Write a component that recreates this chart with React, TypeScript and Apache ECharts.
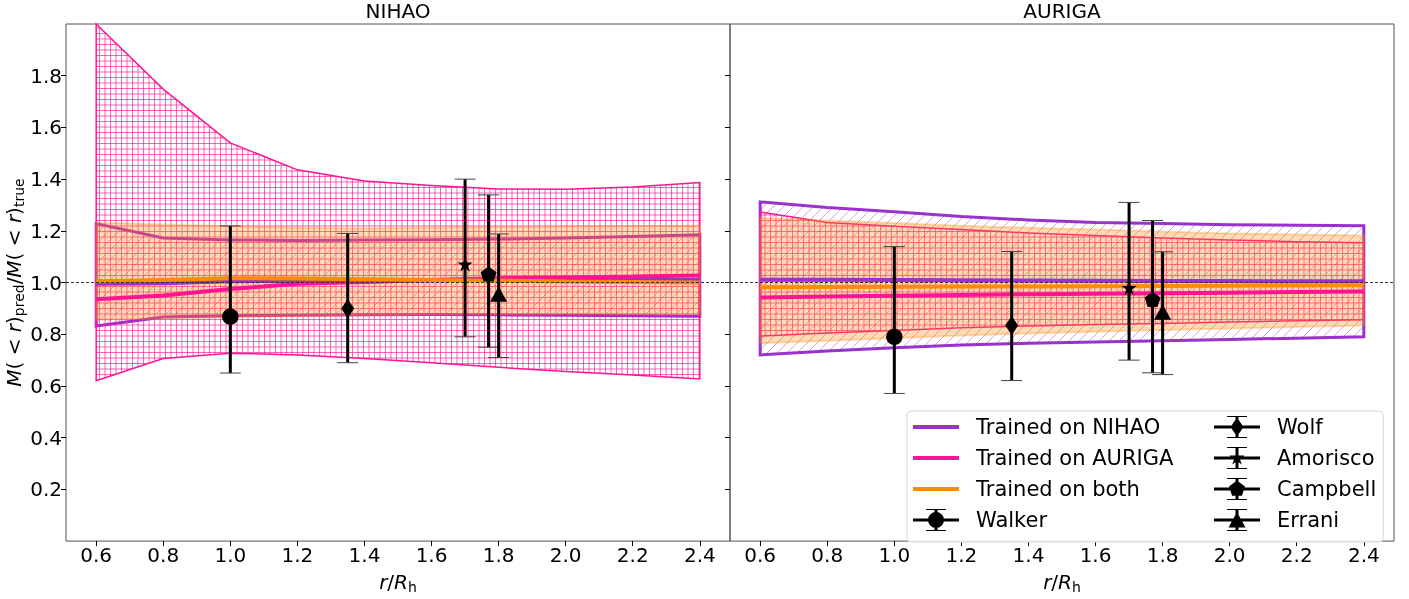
import React, { useEffect, useRef } from 'react';
import * as echarts from 'echarts';

// Radii at which the enclosed-mass ratio was evaluated (r / R_h)
const radii = [0.6, 0.8, 1.0, 1.2, 1.4, 1.6, 1.8, 2.0, 2.2, 2.4];
const xTicks = [0.6, 0.8, 1.0, 1.2, 1.4, 1.6, 1.8, 2.0, 2.2, 2.4];
const yTicks = [0.2, 0.4, 0.6, 0.8, 1.0, 1.2, 1.4, 1.6, 1.8];

// NIHAO test galaxies: median ratio and 16-84% band per training set
const nihaoByNihaoMean = [0.995, 0.997, 1.005, 1.007, 1.008, 1.009, 1.01, 1.01, 1.01, 1.01];
const nihaoByNihaoLo = [0.832, 0.867, 0.872, 0.874, 0.875, 0.876, 0.875, 0.874, 0.872, 0.87];
const nihaoByNihaoHi = [1.228, 1.172, 1.165, 1.163, 1.165, 1.166, 1.168, 1.172, 1.178, 1.185];
const nihaoByAurigaMean = [0.935, 0.95, 0.975, 0.995, 1.002, 1.01, 1.017, 1.02, 1.023, 1.027];
const nihaoByAurigaLo = [0.62, 0.706, 0.727, 0.72, 0.706, 0.69, 0.672, 0.656, 0.642, 0.627];
const nihaoByAurigaHi = [2.0, 1.748, 1.54, 1.436, 1.393, 1.375, 1.362, 1.361, 1.37, 1.387];
const nihaoByBothMean = [1.005, 1.01, 1.017, 1.016, 1.013, 1.01, 1.007, 1.004, 1.002, 1.0];
const nihaoByBothLo = [0.856, 0.862, 0.866, 0.87, 0.873, 0.876, 0.878, 0.879, 0.879, 0.879];
const nihaoByBothHi = [1.232, 1.225, 1.218, 1.212, 1.21, 1.213, 1.215, 1.217, 1.219, 1.22];

// AURIGA test galaxies
const aurigaByNihaoMean = [1.011, 1.011, 1.01, 1.009, 1.008, 1.007, 1.006, 1.006, 1.005, 1.005];
const aurigaByNihaoLo = [0.72, 0.735, 0.748, 0.758, 0.765, 0.77, 0.775, 0.78, 0.785, 0.79];
const aurigaByNihaoHi = [1.312, 1.29, 1.274, 1.255, 1.242, 1.232, 1.228, 1.224, 1.222, 1.22];
const aurigaByAurigaMean = [0.942, 0.946, 0.949, 0.952, 0.955, 0.957, 0.959, 0.961, 0.963, 0.965];
const aurigaByAurigaLo = [0.793, 0.805, 0.815, 0.825, 0.832, 0.838, 0.842, 0.847, 0.852, 0.856];
const aurigaByAurigaHi = [1.273, 1.232, 1.218, 1.205, 1.192, 1.182, 1.172, 1.165, 1.158, 1.154];
const aurigaByBothMean = [0.982, 0.983, 0.984, 0.985, 0.985, 0.986, 0.987, 0.988, 0.989, 0.99];
const aurigaByBothLo = [0.765, 0.775, 0.785, 0.795, 0.803, 0.81, 0.816, 0.822, 0.828, 0.834];
const aurigaByBothHi = [1.25, 1.24, 1.23, 1.22, 1.212, 1.205, 1.197, 1.19, 1.186, 1.182];

// Classical mass estimators (value with lower / upper error)
const obsNames = ['Walker', 'Wolf', 'Amorisco', 'Campbell', 'Errani'];
const obsRadius = [1.0, 1.35, 1.7, 1.77, 1.8];
const nihaoObs = [0.868, 0.9, 1.068, 1.03, 0.955];
const nihaoObsLo = [0.65, 0.69, 0.79, 0.75, 0.71];
const nihaoObsHi = [1.219, 1.19, 1.4, 1.339, 1.188];
const aurigaObs = [0.79, 0.834, 0.977, 0.932, 0.885];
const aurigaObsLo = [0.571, 0.621, 0.7, 0.651, 0.644];
const aurigaObsHi = [1.139, 1.12, 1.31, 1.24, 1.119];

const FONT = 'DejaVu Sans';
const PURPLE = '#9932CC';
const PINK = '#FF1493';
const ORANGE = '#FF8C00';

const markerKind: Record<string, string> = {
  Walker: 'circle',
  Wolf: 'thinDiamond',
  Amorisco: 'star',
  Campbell: 'pentagon',
  Errani: 'triangle',
};

const svgUrl = (w: number, h: number, body: string) =>
  'data:image/svg+xml;charset=utf-8,' +
  encodeURIComponent(`<svg xmlns="http://www.w3.org/2000/svg" width="${w}" height="${h}">${body}</svg>`);

// "+" hatch and "//" hatch tiles
const gridHatch = {
  image: svgUrl(11, 11, '<path d="M0.5 0V11M6 0V11M0 0.5H11M0 6H11" stroke="#ff1493" stroke-opacity="0.65" stroke-width="1" fill="none"/>'),
  imageWidth: 11,
  imageHeight: 11,
  repeat: 'repeat',
};
const diagHatch = {
  image: svgUrl(10, 10, '<path d="M0 10L10 0M-2 2L2 -2M8 12L12 8" stroke="#9932cc" stroke-opacity="0.45" stroke-width="1" fill="none"/>'),
  imageWidth: 10,
  imageHeight: 10,
  repeat: 'repeat',
};

function polyPoints(kind: string, cx: number, cy: number): number[][] {
  const pts: number[][] = [];
  if (kind === 'thinDiamond') {
    return [[cx, cy - 9.5], [cx + 6.5, cy], [cx, cy + 9.5], [cx - 6.5, cy]];
  }
  if (kind === 'triangle') {
    return [[cx, cy - 8], [cx + 8.5, cy + 7.5], [cx - 8.5, cy + 7.5]];
  }
  if (kind === 'star') {
    for (let k = 0; k < 10; k++) {
      const r = k % 2 ? 3.1 : 8.0;
      const a = (k * Math.PI) / 5;
      pts.push([cx + r * Math.sin(a), cy - r * Math.cos(a)]);
    }
    return pts;
  }
  // pentagon
  for (let k = 0; k < 5; k++) {
    const a = (k * 2 * Math.PI) / 5;
    pts.push([cx + 8.4 * Math.sin(a), cy - 8.4 * Math.cos(a)]);
  }
  return pts;
}

function markerGraphic(kind: string, cx: number, cy: number) {
  if (kind === 'circle') {
    return { type: 'circle', shape: { cx, cy, r: 8.2 }, style: { fill: '#000' } };
  }
  return { type: 'polygon', shape: { points: polyPoints(kind, cx, cy) }, style: { fill: '#000' } };
}

// Legend icons: a 58x22 box, drawing lives in the left 46px
const lineIcon = 'path://M0 0M58 22M0 9H46V13H0Z';
function errIcon(kind: string) {
  let d = 'path://M0 0M58 22M0 9.5H46V12.5H0ZM21.5 0.5H24.5V21.5H21.5ZM13 0H33V1H13ZM13 21H33V22H13Z';
  if (kind === 'circle') {
    d += 'M15 11A8 8 0 1 1 31 11A8 8 0 1 1 15 11Z';
  } else {
    const p = polyPoints(kind, 23, 11);
    d += 'M' + p.map((q) => q[0].toFixed(2) + ' ' + q[1].toFixed(2)).join('L') + 'Z';
  }
  return d;
}

function bandSeries(axis: number, lo: number[], hi: number[], style: any, z: number) {
  return {
    type: 'custom',
    xAxisIndex: axis,
    yAxisIndex: axis,
    silent: true,
    z,
    data: radii.map((x, i) => [x, lo[i], hi[i]]),
    encode: { x: 0, y: [1, 2] },
    renderItem: (params: any, api: any) => {
      if (params.dataIndexInside !== 0) return null;
      const upper: number[][] = [];
      const lower: number[][] = [];
      for (let i = 0; i < radii.length; i++) {
        upper.push(api.coord([radii[i], hi[i]]));
        lower.push(api.coord([radii[i], lo[i]]));
      }
      return {
        type: 'polygon',
        shape: { points: upper.concat(lower.reverse()) },
        style,
      };
    },
  };
}

function meanSeries(axis: number, name: string, values: number[], color: string) {
  return {
    type: 'line',
    name,
    xAxisIndex: axis,
    yAxisIndex: axis,
    silent: true,
    z: 4,
    color,
    symbol: 'none',
    lineStyle: { color, width: 4 },
    data: radii.map((x, i) => [x, values[i]]),
  };
}

function errorSeries(axis: number, idx: number, val: number[], lo: number[], hi: number[]) {
  const name = obsNames[idx];
  const kind = markerKind[name];
  return {
    type: 'custom',
    name,
    xAxisIndex: axis,
    yAxisIndex: axis,
    silent: true,
    z: 7,
    itemStyle: { color: '#000' },
    data: [[obsRadius[idx], val[idx], lo[idx], hi[idx]]],
    renderItem: (_p: any, api: any) => {
      const c = api.coord([api.value(0), api.value(1)]);
      const t = api.coord([api.value(0), api.value(3)]);
      const b = api.coord([api.value(0), api.value(2)]);
      return {
        type: 'group',
        children: [
          { type: 'line', shape: { x1: c[0], y1: t[1], x2: c[0], y2: b[1] }, style: { stroke: '#000', lineWidth: 3 } },
          { type: 'line', shape: { x1: c[0] - 10.5, y1: t[1], x2: c[0] + 10.5, y2: t[1] }, style: { stroke: '#444', lineWidth: 1 } },
          { type: 'line', shape: { x1: c[0] - 10.5, y1: b[1], x2: c[0] + 10.5, y2: b[1] }, style: { stroke: '#444', lineWidth: 1 } },
          markerGraphic(kind, c[0], c[1]),
        ],
      };
    },
  };
}

function panelSeries(
  axis: number,
  nMean: number[], nLo: number[], nHi: number[],
  aMean: number[], aLo: number[], aHi: number[],
  bMean: number[], bLo: number[], bHi: number[],
  obs: number[], obsLo: number[], obsHi: number[],
) {
  const list: any[] = [
    bandSeries(axis, nLo, nHi, { fill: diagHatch, stroke: PURPLE, lineWidth: 3 }, 1),
    bandSeries(axis, aLo, aHi, { fill: gridHatch, stroke: PINK, lineWidth: 1.5 }, 2),
    bandSeries(axis, bLo, bHi, { fill: 'rgba(255,140,0,0.3)', stroke: 'rgba(255,140,0,0.3)', lineWidth: 2 }, 3),
    meanSeries(axis, 'Trained on NIHAO', nMean, PURPLE),
    meanSeries(axis, 'Trained on AURIGA', aMean, PINK),
    {
      ...meanSeries(axis, 'Trained on both', bMean, ORANGE),
      markLine: {
        silent: true,
        symbol: 'none',
        label: { show: false },
        lineStyle: { color: '#333', width: 1, type: [3, 2] },
        data: [{ yAxis: 1 }],
        z: 6,
      },
    },
  ];
  obsNames.forEach((_n, i) => list.push(errorSeries(axis, i, obs, obsLo, obsHi)));
  return list;
}

const tickFmt = (v: number) => v.toFixed(1);

const nameRich = {
  i: { fontFamily: FONT, fontSize: 20, fontStyle: 'italic', lineHeight: 24, color: '#000' },
  s: { fontFamily: FONT, fontSize: 14, lineHeight: 14, verticalAlign: 'bottom', color: '#000' },
};

function xAxisFor(idx: number) {
  return {
    type: 'value',
    gridIndex: idx,
    min: 0.51,
    max: 2.49,
    name: '{i|r}/{i|R}{s|h}',
    nameLocation: 'middle',
    nameGap: 21,
    nameTextStyle: { fontFamily: FONT, fontSize: 20, color: '#000', lineHeight: 24, rich: nameRich },
    axisLine: { show: false },
    splitLine: { show: false },
    axisTick: { show: true, customValues: xTicks, length: 5, lineStyle: { color: '#000', width: 1 } },
    axisLabel: { customValues: xTicks, formatter: tickFmt, fontFamily: FONT, fontSize: 20, color: '#000', margin: 4 },
  };
}

function yAxisFor(idx: number) {
  const base: any = {
    type: 'value',
    gridIndex: idx,
    min: 0,
    max: 2,
    axisLine: { show: false },
    splitLine: { show: false },
    axisTick: { show: true, customValues: yTicks, length: 5, lineStyle: { color: '#000', width: 1 } },
    axisLabel: { show: idx === 0, customValues: yTicks, formatter: tickFmt, fontFamily: FONT, fontSize: 20, color: '#000', margin: 4 },
  };
  if (idx === 0) {
    base.name = '{i|M}( < {i|r}){s|pred}/{i|M}( < {i|r}){s|true}';
    base.nameLocation = 'middle';
    base.nameRotate = 90;
    base.nameGap = 33;
    base.nameTextStyle = { fontFamily: FONT, fontSize: 20, color: '#000', lineHeight: 24, rich: nameRich };
  }
  return base;
}

const modelNames = ['Trained on NIHAO', 'Trained on AURIGA', 'Trained on both'];
const legendCol1 = [...modelNames, obsNames[0]];
const legendCol2 = obsNames.slice(1);

const legendIcon = (name: string) => (modelNames.includes(name) ? lineIcon : errIcon(markerKind[name]));

const legendCommon = {
  orient: 'vertical',
  itemWidth: 58,
  itemHeight: 22,
  itemGap: 9,
  selectedMode: false,
  textStyle: { fontFamily: FONT, fontSize: 21, color: '#000' },
};

const titleStyle = { fontFamily: FONT, fontSize: 20, fontWeight: 'normal', color: '#000' };

export default function App() {
  const ref = useRef<HTMLDivElement>(null);

  useEffect(() => {
    if (!ref.current) return;
    const chart = echarts.init(ref.current, undefined, { renderer: 'svg' });
    const series = [
      ...panelSeries(0,
        nihaoByNihaoMean, nihaoByNihaoLo, nihaoByNihaoHi,
        nihaoByAurigaMean, nihaoByAurigaLo, nihaoByAurigaHi,
        nihaoByBothMean, nihaoByBothLo, nihaoByBothHi,
        nihaoObs, nihaoObsLo, nihaoObsHi),
      ...panelSeries(1,
        aurigaByNihaoMean, aurigaByNihaoLo, aurigaByNihaoHi,
        aurigaByAurigaMean, aurigaByAurigaLo, aurigaByAurigaHi,
        aurigaByBothMean, aurigaByBothLo, aurigaByBothHi,
        aurigaObs, aurigaObsLo, aurigaObsHi),
    ];
    chart.setOption({
      animation: false,
      textStyle: { fontFamily: FONT },
      title: [
        { text: 'NIHAO', left: 398, top: 1, padding: 0, textAlign: 'center', textStyle: titleStyle },
        { text: 'AURIGA', left: 1062, top: 1, padding: 0, textAlign: 'center', textStyle: titleStyle },
      ],
      grid: [
        { left: 66, top: 24, width: 664, height: 527.5, show: true, borderColor: '#555', borderWidth: 1, backgroundColor: 'transparent' },
        { left: 730, top: 24, width: 664, height: 527.5, show: true, borderColor: '#555', borderWidth: 1, backgroundColor: 'transparent' },
      ],
      xAxis: [xAxisFor(0), xAxisFor(1)],
      yAxis: [yAxisFor(0), yAxisFor(1)],
      legend: [
        {
          // first column, carries the frame for both columns
          ...legendCommon,
          left: 907,
          top: 411,
          padding: [5, 210, 11, 6],
          backgroundColor: 'rgba(255,255,255,0.85)',
          borderColor: '#d6d6d6',
          borderWidth: 1,
          borderRadius: 4,
          data: legendCol1.map((name) => ({ name, icon: legendIcon(name) })),
        },
        {
          ...legendCommon,
          left: 1214,
          top: 416,
          padding: 0,
          data: legendCol2.map((name) => ({ name, icon: legendIcon(name) })),
        },
      ],
      series,
    });
    return () => chart.dispose();
  }, []);

  return <div ref={ref} style={{ position: 'fixed', left: 0, top: 0, width: 1409, height: 599 }} />;
}
